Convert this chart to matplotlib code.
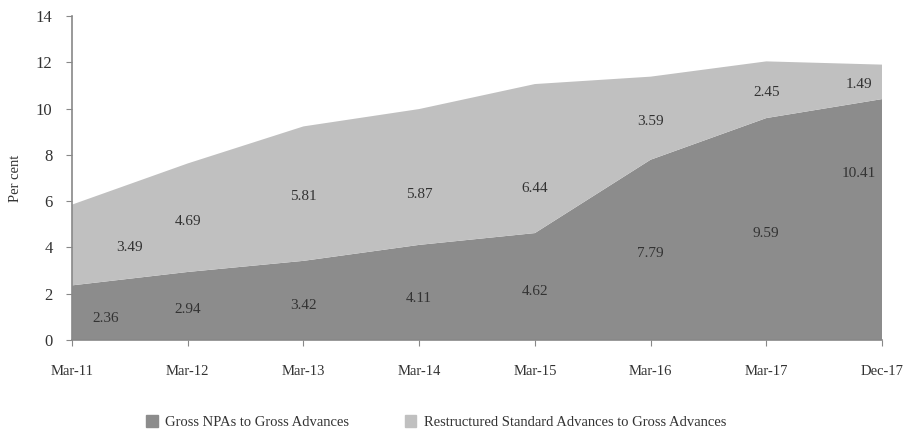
import matplotlib.pyplot as plt
import numpy as np
from matplotlib.patches import Patch

plt.rcParams['font.family'] = ['Liberation Serif', 'DejaVu Serif']

periods = ['Mar-11', 'Mar-12', 'Mar-13', 'Mar-14', 'Mar-15', 'Mar-16', 'Mar-17', 'Dec-17']
gross_npa = [2.36, 2.94, 3.42, 4.11, 4.62, 7.79, 9.59, 10.41]
restructured = [3.49, 4.69, 5.81, 5.87, 6.44, 3.59, 2.45, 1.49]

# hand placement of the value labels (x offset in categories, y in data units)
npa_lab_dx = [0.29, 0.0, 0.0, 0.0, 0.0, 0.0, 0.0, -0.2]
npa_lab_y = [0.95, 1.3, 1.5, 1.8, 2.1, 3.75, 4.6, 7.2]
rs_lab_dx = [0.5, 0.0, 0.0, 0.0, 0.0, 0.0, 0.0, -0.2]
rs_lab_y = [4.0, 5.1, 6.2, 6.3, 6.55, 9.45, 10.7, 11.05]

dark = '#8c8c8c'
light = '#c0c0c0'
txt = '#333333'

x = np.arange(len(periods))

fig = plt.figure(figsize=(9.05, 4.33), dpi=100)
ax = fig.add_axes([0.0796, 0.2148, 0.8950, 0.7482])

ax.stackplot(x, gross_npa, restructured, colors=[dark, light], linewidth=0)

for i in range(len(periods)):
    ax.text(x[i] + npa_lab_dx[i], npa_lab_y[i], f'{gross_npa[i]:.2f}',
            ha='center', va='center', fontsize=11, color=txt)
    ax.text(x[i] + rs_lab_dx[i], rs_lab_y[i], f'{restructured[i]:.2f}',
            ha='center', va='center', fontsize=11, color=txt)

ax.set_xlim(0, len(periods) - 1)
ax.set_ylim(0, 14)
ax.set_yticks(range(0, 15, 2))
ax.set_xticks(x)
ax.set_xticklabels(periods)
ax.tick_params(axis='both', colors='#888888', labelcolor=txt, length=4)
ax.tick_params(axis='x', labelsize=10.5, pad=14)
ax.tick_params(axis='y', labelsize=12, pad=10)
ax.set_ylabel('Per cent', fontsize=10.5, color=txt, labelpad=10)

for s in ['top', 'right']:
    ax.spines[s].set_visible(False)
for s in ['left', 'bottom']:
    ax.spines[s].set_color('#888888')
    ax.spines[s].set_linewidth(1.2)

handles = [Patch(color=dark), Patch(color=light)]
fig.legend(handles, ['Gross NPAs to Gross Advances', 'Restructured Standard Advances to Gross Advances'],
           loc='center', bbox_to_anchor=(0.482, 0.025), ncol=2, frameon=False,
           fontsize=10.5, handlelength=0.8, handleheight=0.8, columnspacing=3.8,
           handletextpad=0.5, labelcolor=txt)

fig.savefig('out.png', dpi=100)
